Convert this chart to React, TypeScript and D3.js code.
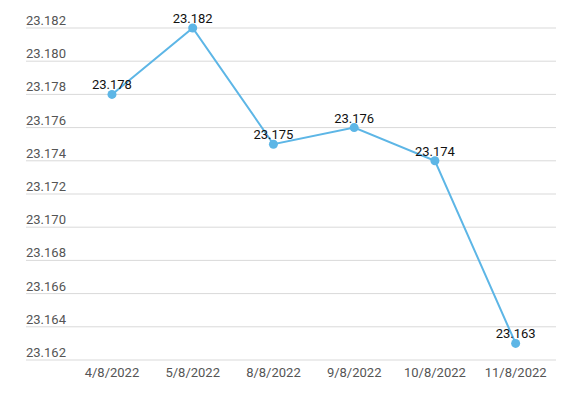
import React from 'react'
import * as d3 from 'd3'

const dates = ['4/8/2022', '5/8/2022', '8/8/2022', '9/8/2022', '10/8/2022', '11/8/2022']
const rates = [23.178, 23.182, 23.175, 23.176, 23.174, 23.163]
const yTicks = [23.162, 23.164, 23.166, 23.168, 23.17, 23.172, 23.174, 23.176, 23.178, 23.18, 23.182]

const App: React.FC = () => {
  const width = 576
  const height = 399
  const gridLeft = 26
  const gridRight = 556

  const xScale = d3.scaleBand<string>().domain(dates).range([71.6, 556])
  const yScale = d3.scaleLinear().domain([23.162, 23.182]).range([360, 28])

  const line = d3.line<number>()
    .x((d, i) => (xScale(dates[i]) as number) + xScale.bandwidth() / 2)
    .y(d => yScale(d))

  return (
    <svg width={width} height={height} style={{ position: 'absolute', left: 0, top: 0, fontFamily: 'Roboto, sans-serif' }}>
      {yTicks.map(t => (
        <g key={t}>
          <line x1={gridLeft} x2={gridRight} y1={yScale(t)} y2={yScale(t)} stroke="#d9d9d9" strokeWidth={1} />
          <text x={gridLeft} y={yScale(t) - 3} fontSize={13} fill="#555">{t.toFixed(3)}</text>
        </g>
      ))}
      {dates.map(d => (
        <text key={d} x={(xScale(d) as number) + xScale.bandwidth() / 2} y={377} fontSize={13} fill="#555" textAnchor="middle">{d}</text>
      ))}
      <path d={line(rates) || ''} fill="none" stroke="#5db6e6" strokeWidth={2} />
      {rates.map((v, i) => {
        const cx = (xScale(dates[i]) as number) + xScale.bandwidth() / 2
        return (
          <g key={i}>
            <circle cx={cx} cy={yScale(v)} r={4.5} fill="#5db6e6" />
            <text x={cx} y={yScale(v) - 5} fontSize={13} fill="#111" textAnchor="middle">{v.toFixed(3)}</text>
          </g>
        )
      })}
    </svg>
  )
}

export default App
